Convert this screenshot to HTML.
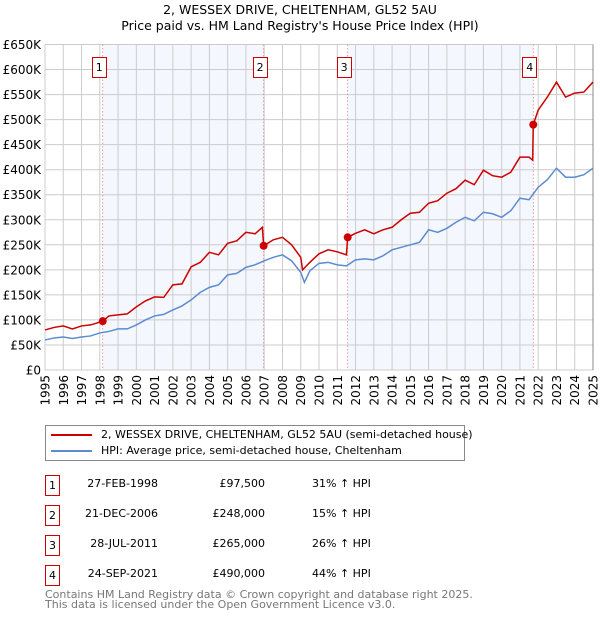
<!DOCTYPE html>
<html><head><meta charset="utf-8"><style>
body{margin:0;background:#fff;font-family:"DejaVu Sans","Liberation Sans",sans-serif;}
#wrap{position:relative;width:600px;height:620px;}
.t{position:absolute;font-size:11px;color:#000;white-space:nowrap}
.nb{position:absolute;width:13px;height:19px;border:1px solid #c00;font-size:11px;text-align:center;line-height:19px;background:#fff}
</style></head><body><div id="wrap">
<div class="t" style="left:0;width:600px;text-align:center;top:2px;font-size:12.5px;line-height:16px">2, WESSEX DRIVE, CHELTENHAM, GL52 5AU<br>Price paid vs. HM Land Registry's House Price Index (HPI)</div>
<svg id="plot" width="600" height="420" style="position:absolute;left:0;top:0"></svg>
<div style="position:absolute;left:45px;top:425px;width:418px;height:34px;border:1px solid #888">
<div style="position:absolute;left:5px;top:8px;width:41px;height:2px;background:#c00"></div>
<div class="t" style="left:55px;top:2px">2, WESSEX DRIVE, CHELTENHAM, GL52 5AU (semi-detached house)</div>
<div style="position:absolute;left:5px;top:24px;width:41px;height:2px;background:#5b8bd0"></div>
<div class="t" style="left:55px;top:18px">HPI: Average price, semi-detached house, Cheltenham</div>
</div>
<div id="tbl"></div>
<div class="t" style="left:45px;top:590px;color:#777;line-height:10px">Contains HM Land Registry data © Crown copyright and database right 2025.<br>This data is licensed under the Open Government Licence v3.0.</div>
</div>
<script>
const hpiYears=[1995,1995.5,1996,1996.5,1997,1997.5,1998,1998.5,1999,1999.5,2000,2000.5,2001,2001.5,2002,2002.5,2003,2003.5,2004,2004.5,2005,2005.5,2006,2006.5,2007,2007.5,2008,2008.5,2009,2009.2,2009.5,2010,2010.5,2011,2011.5,2012,2012.5,2013,2013.5,2014,2014.5,2015,2015.5,2016,2016.5,2017,2017.5,2018,2018.5,2019,2019.5,2020,2020.5,2021,2021.5,2022,2022.5,2023,2023.5,2024,2024.5,2025];
const hpiValues=[60,64,66,63,66,68,74,77,82,82,90,100,108,111,120,128,140,155,165,170,190,193,205,210,218,225,230,218,195,175,198,213,215,210,208,220,222,220,228,240,245,250,255,280,275,283,295,305,298,315,312,305,318,343,340,365,380,403,385,385,390,403];
const priceYears=[1995,1995.5,1996,1996.5,1997,1997.5,1998.16,1998.5,1999,1999.5,2000,2000.5,2001,2001.5,2002,2002.5,2003,2003.5,2004,2004.5,2005,2005.5,2006,2006.5,2006.9,2006.97,2007.5,2008,2008.5,2009,2009.1,2009.5,2010,2010.5,2011,2011.5,2011.57,2012,2012.5,2013,2013.5,2014,2014.5,2015,2015.5,2016,2016.5,2017,2017.5,2018,2018.5,2019,2019.5,2020,2020.5,2021,2021.5,2021.7,2021.73,2022,2022.5,2023,2023.5,2024,2024.5,2025];
const priceValues=[80,85,88,82,88,90,97.5,108,110,112,126,138,146,145,170,172,206,215,235,230,253,258,275,272,285,248,260,265,250,225,200,215,232,240,236,230,265,273,280,272,280,285,300,313,315,333,338,353,362,379,370,399,388,385,395,425,425,419,490,519,545,575,545,553,555,575];
const saleYears=[1998.16,2006.97,2011.57,2021.73];
const saleValues=[97.5,248,265,490];
const saleDates=["27-FEB-1998","21-DEC-2006","28-JUL-2011","24-SEP-2021"];
const salePrices=["£97,500","£248,000","£265,000","£490,000"];
const saleHpi=["31% ↑ HPI","15% ↑ HPI","26% ↑ HPI","44% ↑ HPI"];
const yTicks=[0,50,100,150,200,250,300,350,400,450,500,550,600,650];
const xTicks=[1995,1996,1997,1998,1999,2000,2001,2002,2003,2004,2005,2006,2007,2008,2009,2010,2011,2012,2013,2014,2015,2016,2017,2018,2019,2020,2021,2022,2023,2024,2025];

const X0=45,X1=593,Y0=370,Y1=44.5;
const xs=y=>X0+(y-1995)/30*(X1-X0);
const ys=v=>Y0-v/650*(Y0-Y1);
const svg=document.getElementById('plot');
const NS='http://www.w3.org/2000/svg';
function mk(tag,at){const e=document.createElementNS(NS,tag);for(const k in at)e.setAttribute(k,at[k]);svg.appendChild(e);return e;}
for(let i=0;i<saleYears.length;i+=2){
 const r=mk('rect',{x:xs(saleYears[i]),y:Y1,width:xs(saleYears[i+1])-xs(saleYears[i]),height:Y0-Y1,fill:'#f4f7fe'});
 
 
}
yTicks.forEach(v=>{
 const l=mk('line',{x1:X0,x2:X1,y1:ys(v),y2:ys(v),stroke:'#ccc','stroke-width':1});
 
 
 const t=mk('text',{x:41,y:ys(v)+4.5,'text-anchor':'end','font-size':12,'font-family':'DejaVu Sans,sans-serif'});
 t.textContent=v===0?'£0':'£'+v+'K';
 
 
});
xTicks.forEach(y=>{
 const l=mk('line',{x1:xs(y),x2:xs(y),y1:Y1,y2:Y0,stroke:'#ccc','stroke-width':1});
 
 
 const t=mk('text',{x:0,y:0,'text-anchor':'end','font-size':12,'font-family':'DejaVu Sans,sans-serif',transform:`translate(${xs(y)+4.5},375) rotate(-90)`});
 t.textContent=y;
 
 
});
const ax=mk('line',{x1:X1,x2:X1,y1:Y1,y2:Y0,stroke:'#888'});


saleYears.forEach((y,i)=>{
 const l=mk('line',{x1:xs(y),x2:xs(y),y1:Y1,y2:Y0,stroke:'#e88090','stroke-dasharray':'1.5,2','stroke-width':0.8});
 
 
});
const hp=mk('polyline',{points:hpiYears.map((y,i)=>xs(y)+','+ys(hpiValues[i])).join(' '),fill:'none',stroke:'#5b8bd0','stroke-width':1.5});


const pp=mk('polyline',{points:priceYears.map((y,i)=>xs(y)+','+ys(priceValues[i])).join(' '),fill:'none',stroke:'#cc0000','stroke-width':1.5});


saleYears.forEach((y,i)=>{
 const c=mk('circle',{cx:xs(y),cy:ys(saleValues[i]),r:4,fill:'#cc0000'});
 
 
});
const wrap=document.getElementById('wrap');
saleYears.forEach((y,i)=>{
 const b=document.createElement('div');b.className='nb';b.textContent=i+1;
 b.style.left=(xs(y)-11)+'px';b.style.top='57px';
 
 
 wrap.appendChild(b);
});
const tbl=document.getElementById('tbl');
saleDates.forEach((d,i)=>{
 const top=475+i*30;
 const b=document.createElement('div');b.className='nb';b.textContent=i+1;b.style.left='45px';b.style.top=top+'px';
 
 
 tbl.appendChild(b);
 const cells=[[d,158,'right'],[salePrices[i],265,'right'],[saleHpi[i],312,'left']];
 cells.forEach((c,j)=>{
  const t=document.createElement('div');t.className='t';t.textContent=c[0];
  t.style.top=(top+2)+'px';
  if(c[2]==='right'){t.style.right=(600-c[1])+'px';}else{t.style.left=c[1]+'px';}
  
  
  tbl.appendChild(t);
 });
});
</script></body></html>
